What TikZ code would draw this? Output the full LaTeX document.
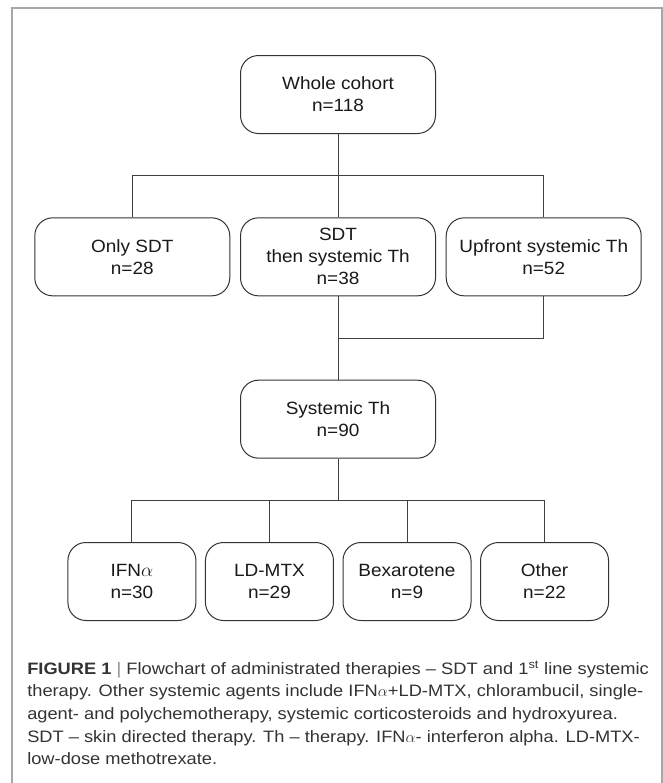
\documentclass[tikz,border=0pt]{standalone}
\usepackage{fontspec}
\setmainfont{Liberation Sans}
\newfontfamily\boxfont{Liberation Sans}[FakeStretch=1.07]
\newfontfamily\capfont{Liberation Sans}[FakeStretch=1.105]
\usetikzlibrary{positioning,calc}

\begin{document}
\begin{tikzpicture}[
    x=0.75pt, y=-0.75pt,
    node distance=62.5pt,
    box/.style={rectangle, draw=black!80, line width=0.75pt, rounded corners=13.5pt, minimum width=146.25pt, minimum height=58.5pt, inner sep=0pt, align=center, text=black!90, font=\boxfont\fontsize{13.3}{16.5}\selectfont},
    small/.style={box, minimum width=96pt},
    link/.style={draw=black!75, line width=0.75pt},
]
    \useasboundingbox (0,0) rectangle (663,783);

    % Frame round the figure
    \draw[black!35, line width=1.2pt] (12,783) -- (12,8) -- (662,8) -- (662,783);

    % Top of the tree
    \node[box] (whole) at (338,94.5) {Whole cohort\\n=118};

    % First split (three groups)
    \node[box, below=of whole] (thenst) {SDT\\then systemic Th\\n=38};
    \node[box, left=7.3pt of thenst] (only) {Only SDT\\n=28};
    \node[box, right=7.3pt of thenst] (upfront) {Upfront systemic Th\\n=52};

    % Systemic therapy
    \node[box, below=of thenst] (systh) {Systemic Th\\n=90};

    % Agents (bottom row)
    \node[small, below=of systh, xshift=-51.4pt] (ldmtx) {LD-MTX\\n=29};
    \node[small, left=6.4pt of ldmtx] (ifn) {IFN$\alpha$\\n=30};
    \node[small, right=6.4pt of ldmtx] (bexa) {Bexarotene\\n=9};
    \node[small, right=6.4pt of bexa] (other) {Other\\n=22};

    % Bus points between the rows
    \coordinate (bus1) at ($(whole.south)!0.5!(thenst.north)$);
    \coordinate (bus2) at ($(thenst.south)!0.5!(systh.north)$);
    \coordinate (bus3) at ($(systh.south)!0.5!(ldmtx.north -| systh.south)$);

    % Lines from the whole cohort
    \draw[link] (whole) -- (thenst);
    \draw[link] (only.north) |- (bus1) -| (upfront.north);

    % Lines into systemic therapy
    \draw[link] (thenst) -- (systh);
    \draw[link] (upfront.south) |- (bus2);

    % Lines to the agents
    \draw[link] (systh.south) -- (bus3);
    \draw[link] (ifn.north) |- (bus3) -| (other.north);
    \draw[link] (ldmtx.north) -- (ldmtx.north |- bus3);
    \draw[link] (bexa.north) -- (bexa.north |- bus3);

    % Caption
    \node[anchor=north west, align=left, inner sep=0pt, text=black!80, font=\capfont\fontsize{12.4}{17}\selectfont] (caption) at (27,660.5)
        {\textbf{FIGURE 1} \textcolor{black!45}{|} Flowchart of administrated therapies – SDT and 1\textsuperscript{st} line systemic\\
         therapy. Other systemic agents include IFN$\alpha$+LD-MTX, chlorambucil, single-\\
         agent- and polychemotherapy, systemic corticosteroids and hydroxyurea.\\
         SDT – skin directed therapy. Th – therapy. IFN$\alpha$- interferon alpha. LD-MTX-\\
         low-dose methotrexate.};
\end{tikzpicture}
\end{document}
